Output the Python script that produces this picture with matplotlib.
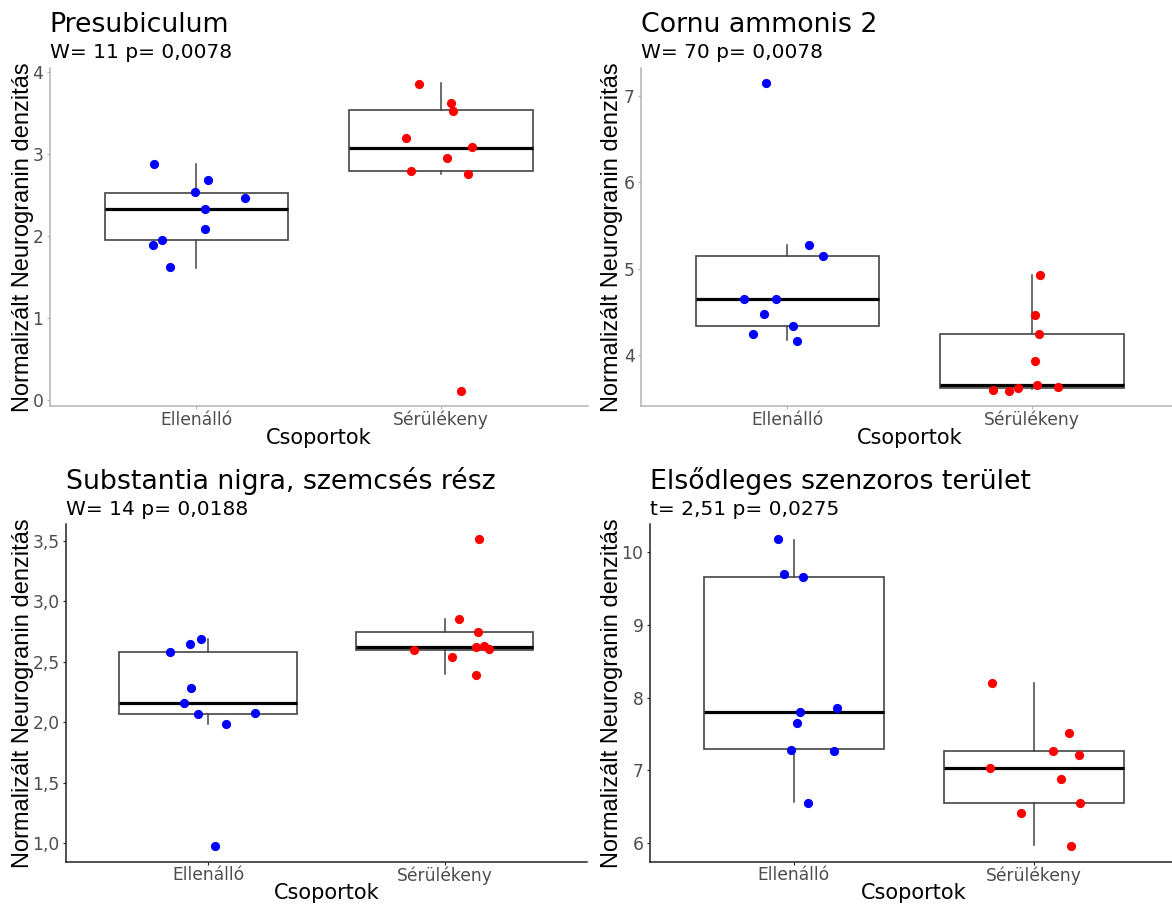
import matplotlib
matplotlib.use("Agg")
import matplotlib.pyplot as plt
import matplotlib.transforms as mtransforms
from matplotlib.ticker import FuncFormatter

plt.rcParams['font.family'] = ['DejaVu Sans']
VERT_FONT = ['Liberation Sans', 'DejaVu Sans']

W, H = 1172, 908

groups = ["Ellenálló", "Sérülékeny"]
x_label = "Csoportok"
y_label = "Normalizált Neurogranin denzitás"

titles = ["Presubiculum", "Cornu ammonis 2",
          "Substantia nigra, szemcsés rész", "Elsődleges szenzoros terület"]
subtitles = ["W= 11 p= 0,0078", "W= 70 p= 0,0078",
             "W= 14 p= 0,0188", "t= 2,51 p= 0,0275"]

# ---- Presubiculum ----
p1_ell_y = [2.879, 2.688, 2.542, 2.465, 2.335, 2.087, 1.953, 1.892, 1.624]
p1_ell_dx = [-0.172, 0.046, -0.006, 0.197, 0.035, 0.034, -0.142, -0.178, -0.108]
p1_ser_y = [3.858, 3.630, 3.533, 3.196, 3.090, 2.956, 2.798, 2.757, 0.118]
p1_ser_dx = [-0.091, 0.042, 0.049, -0.143, 0.129, 0.026, -0.123, 0.109, 0.083]
p1_box_ell = [1.616, 1.953, 2.335, 2.530, 2.887]   # whislo, q1, med, q3, whishi
p1_box_ser = [2.761, 2.794, 3.082, 3.541, 3.866]
p1_ticks = [0, 1, 2, 3, 4]

# ---- Cornu ammonis 2 ----
p2_ell_y = [7.142, 5.277, 5.142, 4.646, 4.646, 4.473, 4.338, 4.242, 4.165]
p2_ell_dx = [-0.086, 0.087, 0.147, -0.178, -0.046, -0.095, 0.023, -0.141, 0.038]
p2_ser_y = [4.923, 4.462, 4.246, 3.935, 3.654, 3.635, 3.615, 3.596, 3.588]
p2_ser_dx = [0.031, 0.012, 0.029, 0.012, 0.020, 0.106, -0.058, -0.158, -0.092]
p2_box_ell = [4.173, 4.338, 4.646, 5.142, 5.277]
p2_box_ser = [3.610, 3.620, 3.655, 4.246, 4.923]
p2_ticks = [4, 5, 6, 7]

# ---- Substantia nigra ----
p3_ell_y = [2.692, 2.651, 2.585, 2.282, 2.163, 2.069, 2.080, 1.981, 0.972]
p3_ell_dx = [-0.030, -0.075, -0.159, -0.073, -0.102, -0.043, 0.197, 0.075, 0.030]
p3_ser_y = [3.514, 2.855, 2.745, 2.626, 2.634, 2.599, 2.604, 2.541, 2.392]
p3_ser_dx = [0.143, 0.062, 0.140, 0.134, 0.165, -0.130, 0.188, 0.032, 0.132]
p3_box_ell = [1.984, 2.072, 2.160, 2.585, 2.692]
p3_box_ser = [2.397, 2.596, 2.621, 2.745, 2.855]
p3_ticks = [1.0, 1.5, 2.0, 2.5, 3.0, 3.5]

# ---- Elsődleges szenzoros terület ----
p4_ell_y = [10.178, 9.698, 9.662, 7.851, 7.801, 7.650, 7.285, 7.262, 6.553]
p4_ell_dx = [-0.065, -0.042, 0.037, 0.179, 0.026, 0.014, -0.012, 0.167, 0.058]
p4_ser_y = [8.203, 7.518, 7.271, 7.211, 7.038, 6.882, 6.544, 6.411, 5.954]
p4_ser_dx = [-0.176, 0.146, 0.079, 0.185, -0.184, 0.111, 0.190, -0.056, 0.151]
p4_box_ell = [6.558, 7.289, 7.801, 9.657, 10.165]
p4_box_ser = [5.968, 6.549, 7.038, 7.271, 8.199]
p4_ticks = [6, 7, 8, 9, 10]

panels = [
    dict(ell=(p1_ell_y, p1_ell_dx), ser=(p1_ser_y, p1_ser_dx), box=(p1_box_ell, p1_box_ser),
         ticks=p1_ticks, dec=False, rect=(49.7, 587.6, 68, 406), xmax=2.6,
         axcol='#b3b3b3', title_y=32.3, sub_y=58.5, ylab_x=22.6),
    dict(ell=(p2_ell_y, p2_ell_dx), ser=(p2_ser_y, p2_ser_dx), box=(p2_box_ell, p2_box_ser),
         ticks=p2_ticks, dec=False, rect=(640.8, 1172, 68, 406), xmax=2.573,
         axcol='#b3b3b3', title_y=32.3, sub_y=58.5, ylab_x=612),
    dict(ell=(p3_ell_y, p3_ell_dx), ser=(p3_ser_y, p3_ser_dx), box=(p3_box_ell, p3_box_ser),
         ticks=p3_ticks, dec=True, rect=(66, 586.7, 524, 861.7), xmax=2.6,
         axcol='#222222', title_y=488.5, sub_y=515.2, ylab_x=22.6),
    dict(ell=(p4_ell_y, p4_ell_dx), ser=(p4_ser_y, p4_ser_dx), box=(p4_box_ell, p4_box_ser),
         ticks=p4_ticks, dec=False, rect=(649.7, 1172, 524, 861.7), xmax=2.573,
         axcol='#222222', title_y=488.5, sub_y=515.2, ylab_x=612),
]

fig = plt.figure(figsize=(W / 100, H / 100), dpi=100)

for i, p in enumerate(panels):
    l, r, t, b = p['rect']
    ax = fig.add_axes([l / W, 1 - b / H, (r - l) / W, (b - t) / H])
    ax.set_facecolor('white')
    stats = []
    for bx in p['box']:
        stats.append(dict(whislo=bx[0], q1=bx[1], med=bx[2], q3=bx[3], whishi=bx[4], fliers=[]))
    ax.bxp(stats, positions=[1, 2], widths=0.75, showcaps=False, showfliers=False,
           patch_artist=True,
           boxprops=dict(facecolor='white', edgecolor='#444444', linewidth=1.2),
           whiskerprops=dict(color='#444444', linewidth=1.1),
           medianprops=dict(color='black', linewidth=2.3), zorder=2)
    for k, (key, col) in enumerate([('ell', '#0000ff'), ('ser', '#ff0000')]):
        ys, dxs = p[key]
        xs = [k + 1 + d for d in dxs]
        ax.scatter(xs, ys, s=44, color=col, zorder=3, linewidths=0)
    # y range: 5% expansion of everything drawn
    allv = list(p['ell'][0]) + list(p['ser'][0]) + list(p['box'][0]) + list(p['box'][1])
    lo, hi = min(allv), max(allv)
    pad = 0.05 * (hi - lo)
    ax.set_ylim(lo - pad, hi + pad)
    ax.set_xlim(0.4, p['xmax'])
    ax.set_xticks([1, 2])
    ax.set_xticklabels(groups)
    ax.set_yticks(p['ticks'])
    if p['dec']:
        ax.yaxis.set_major_formatter(FuncFormatter(lambda v, pos: f"{v:.1f}".replace('.', ',')))
    else:
        ax.yaxis.set_major_formatter(FuncFormatter(lambda v, pos: f"{v:g}"))
    for s in ['top', 'right']:
        ax.spines[s].set_visible(False)
    for s in ['left', 'bottom']:
        ax.spines[s].set_color(p['axcol'])
        ax.spines[s].set_linewidth(1.1)
    ax.tick_params(axis='both', colors=p['axcol'], length=2.5, width=0.8, pad=2,
                   labelsize=12.3, labelcolor='#4d4d4d')
    ax.tick_params(axis='x', pad=0.8)
    # titles
    fig.text(l / W, 1 - p['title_y'] / H, titles[i], fontsize=19.3, color='black',
             ha='left', va='baseline')
    fig.text(l / W, 1 - p['sub_y'] / H, subtitles[i], fontsize=14.5, color='black',
             ha='left', va='baseline')
    # y label
    fig.text(p['ylab_x'] / W, 1 - ((t + b) / 2) / H, y_label, rotation=90, fontsize=17,
             ha='center', va='center', color='black', family=VERT_FONT)
    # x label centred on the panel (x = 1.5)
    trans = mtransforms.blended_transform_factory(ax.transData, fig.transFigure)
    ax.text(1.5, 1 - (b + 37.5) / H, x_label, transform=trans, fontsize=15,
            ha='center', va='baseline', color='black', clip_on=False)

fig.savefig("out.png", dpi=100, facecolor='white')
